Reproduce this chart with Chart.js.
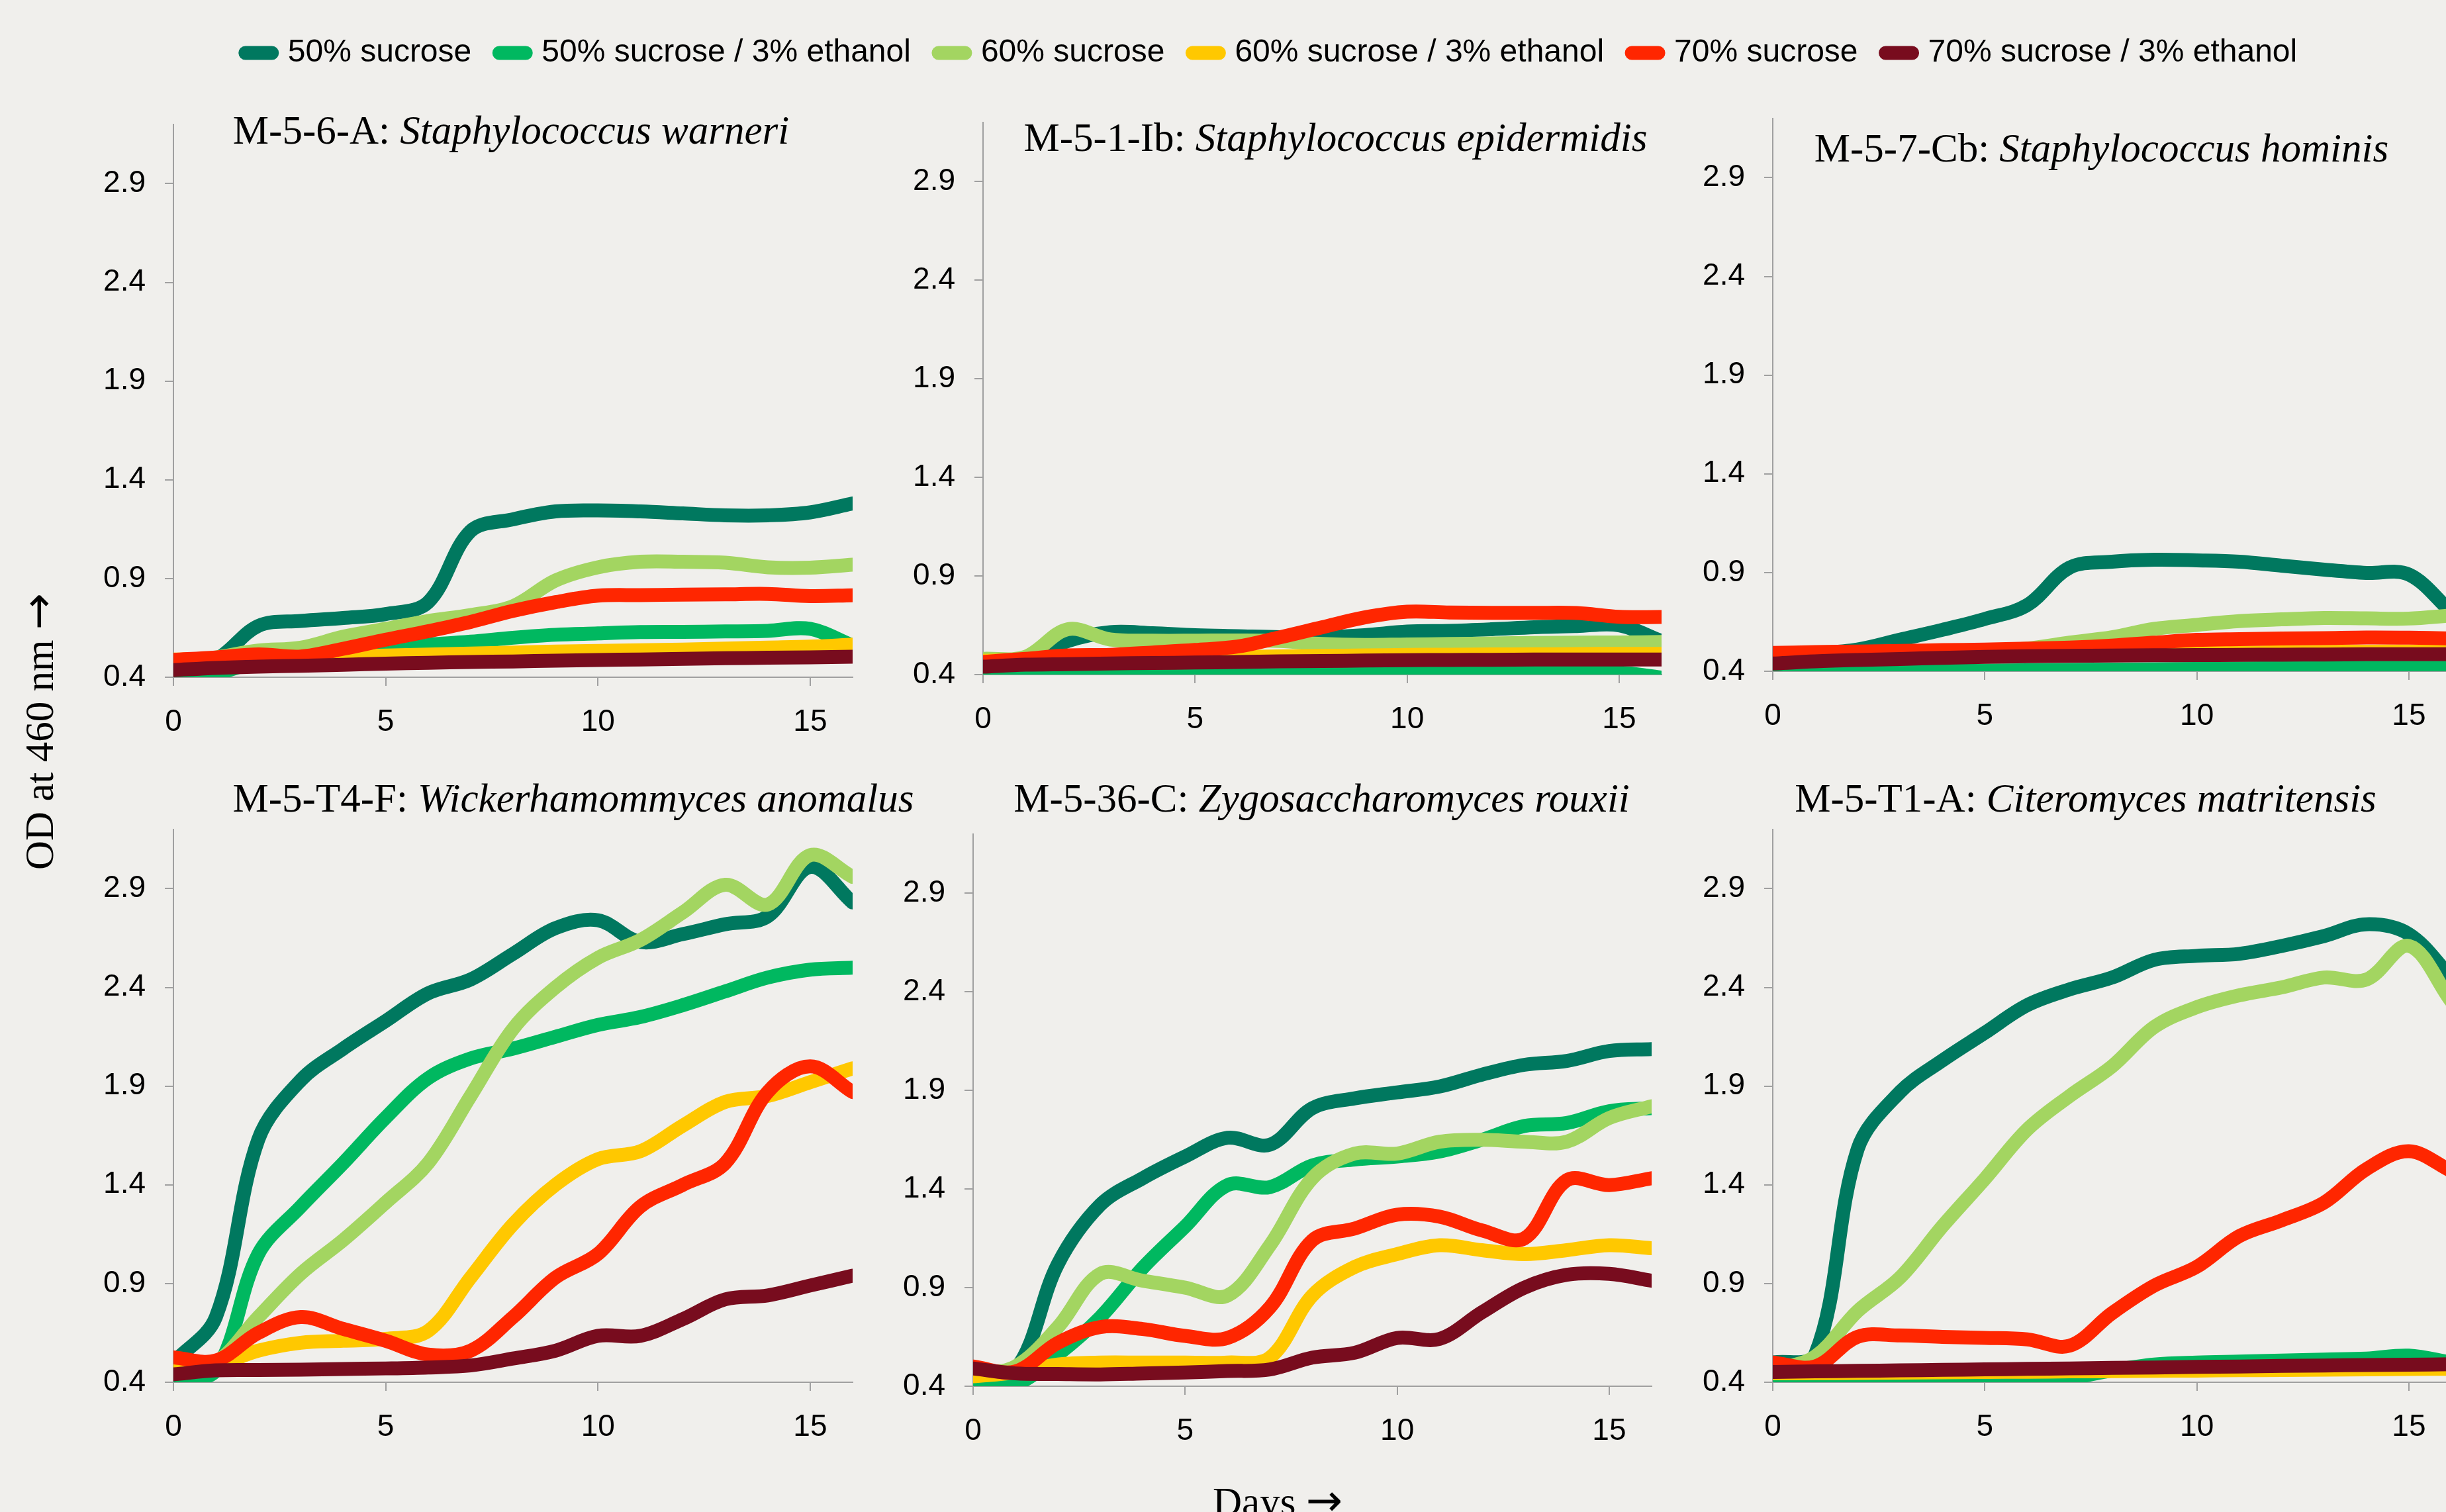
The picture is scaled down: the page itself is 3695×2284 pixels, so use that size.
<!DOCTYPE html>
<html lang="en">
<head>
<meta charset="UTF-8">
<title>OD at 460 nm - growth in sucrose / ethanol</title>
<script src="https://cdn.jsdelivr.net/npm/chart.js"></script>
<style>
  body { margin: 0; width: 3695px; height: 2284px; overflow: hidden; background: #f0efec; position: relative; }
  canvas { position: absolute; }
  .axis-label { position: absolute; font-family: "Liberation Serif", "Times New Roman", serif; font-size: 61px; line-height: 1; white-space: nowrap; color: #000; }
  .axis-label .arrow { font-family: "DejaVu Sans", sans-serif; font-size: 66px; }
  #yLabel { left: 58px; top: 1105px; transform: translate(-50%, -50%) rotate(-90deg); }
  #xLabel { left: 1930px; top: 2234px; transform: translateX(-50%); }
</style>
</head>
<body>
<canvas id="legend" width="3695" height="400" style="left:0;top:0"></canvas>
<div class="axis-label" id="yLabel">OD at 460 nm <span class="arrow">→</span></div>
<div class="axis-label" id="xLabel">Days <span class="arrow">→</span></div>

<script>
// ---- data ----
const days = [0, 1, 2, 3, 4, 5, 6, 7, 8, 9, 10, 11, 12, 13, 14, 15, 16];
const dayTicks = [0, 5, 10, 15];
const odTicks = [0.4, 0.9, 1.4, 1.9, 2.4, 2.9];

const seriesNames = ['50% sucrose', '50% sucrose / 3% ethanol', '60% sucrose',
                     '60% sucrose / 3% ethanol', '70% sucrose', '70% sucrose / 3% ethanol'];

// M-5-6-A: Staphylococcus warneri
const waS50  = [0.45, 0.49, 0.66, 0.685, 0.70, 0.72, 0.78, 1.14, 1.20, 1.24, 1.245, 1.24, 1.23, 1.22, 1.22, 1.235, 1.28];
const waS50E = [0.41, 0.42, 0.48, 0.51, 0.53, 0.55, 0.565, 0.58, 0.60, 0.615, 0.622, 0.629, 0.63, 0.632, 0.635, 0.645, 0.56];
const waS60  = [0.47, 0.50, 0.535, 0.55, 0.605, 0.645, 0.685, 0.715, 0.76, 0.89, 0.957, 0.985, 0.985, 0.98, 0.957, 0.955, 0.97];
const waS60E = [0.49, 0.49, 0.495, 0.50, 0.505, 0.51, 0.515, 0.52, 0.525, 0.53, 0.533, 0.537, 0.54, 0.545, 0.55, 0.555, 0.565];
const waS70  = [0.488, 0.50, 0.516, 0.505, 0.544, 0.59, 0.633, 0.68, 0.736, 0.78, 0.813, 0.816, 0.818, 0.82, 0.822, 0.811, 0.815];
const waS70E = [0.436, 0.447, 0.454, 0.458, 0.463, 0.469, 0.473, 0.477, 0.48, 0.484, 0.487, 0.49, 0.493, 0.496, 0.499, 0.501, 0.504];

// M-5-1-Ib: Staphylococcus epidermidis
const epS50  = [0.45, 0.47, 0.57, 0.615, 0.61, 0.60, 0.595, 0.59, 0.59, 0.60, 0.618, 0.622, 0.63, 0.64, 0.646, 0.65, 0.57];
const epS50E = [0.41, 0.40, 0.39, 0.41, 0.40, 0.395, 0.40, 0.40, 0.405, 0.405, 0.408, 0.41, 0.41, 0.41, 0.41, 0.41, 0.385];
const epS60  = [0.48, 0.49, 0.63, 0.578, 0.572, 0.572, 0.573, 0.57, 0.555, 0.55, 0.553, 0.555, 0.558, 0.56, 0.562, 0.563, 0.565];
const epS60E = [0.47, 0.475, 0.48, 0.483, 0.486, 0.488, 0.49, 0.492, 0.495, 0.497, 0.50, 0.501, 0.502, 0.503, 0.504, 0.505, 0.505];
const epS70  = [0.464, 0.48, 0.497, 0.50, 0.512, 0.525, 0.542, 0.589, 0.64, 0.69, 0.719, 0.715, 0.713, 0.713, 0.712, 0.693, 0.692];
const epS70E = [0.44, 0.45, 0.453, 0.456, 0.459, 0.461, 0.464, 0.467, 0.469, 0.471, 0.473, 0.474, 0.475, 0.476, 0.476, 0.476, 0.476];

// M-5-7-Cb: Staphylococcus hominis
const hoS50  = [0.48, 0.49, 0.51, 0.56, 0.61, 0.665, 0.735, 0.925, 0.955, 0.965, 0.962, 0.955, 0.935, 0.915, 0.898, 0.89, 0.70];
const hoS50E = [0.40, 0.40, 0.40, 0.40, 0.402, 0.403, 0.405, 0.407, 0.408, 0.41, 0.412, 0.414, 0.416, 0.418, 0.418, 0.418, 0.418];
const hoS60  = [0.47, 0.48, 0.49, 0.495, 0.50, 0.505, 0.515, 0.545, 0.572, 0.615, 0.635, 0.654, 0.663, 0.67, 0.668, 0.667, 0.683];
const hoS60E = [0.47, 0.472, 0.475, 0.477, 0.48, 0.482, 0.484, 0.486, 0.488, 0.49, 0.492, 0.494, 0.496, 0.498, 0.499, 0.50, 0.50];
const hoS70  = [0.493, 0.497, 0.50, 0.503, 0.507, 0.51, 0.515, 0.52, 0.53, 0.545, 0.559, 0.563, 0.566, 0.568, 0.571, 0.57, 0.566];
const hoS70E = [0.439, 0.45, 0.457, 0.462, 0.468, 0.473, 0.476, 0.478, 0.48, 0.481, 0.482, 0.483, 0.484, 0.485, 0.486, 0.486, 0.486];

// M-5-T4-F: Wickerhamommyces anomalus
const anS50  = [0.50, 0.73, 1.63, 1.93, 2.09, 2.23, 2.37, 2.44, 2.57, 2.70, 2.74, 2.63, 2.67, 2.72, 2.76, 3.01, 2.83];
const anS50E = [0.42, 0.46, 1.05, 1.29, 1.51, 1.74, 1.94, 2.04, 2.09, 2.15, 2.21, 2.25, 2.31, 2.38, 2.45, 2.49, 2.50];
const anS60  = [0.45, 0.50, 0.73, 0.95, 1.12, 1.31, 1.51, 1.85, 2.19, 2.40, 2.55, 2.64, 2.78, 2.92, 2.82, 3.07, 2.96];
const anS60E = [0.49, 0.49, 0.56, 0.60, 0.61, 0.62, 0.66, 0.93, 1.20, 1.40, 1.53, 1.57, 1.70, 1.82, 1.85, 1.92, 1.99];
const anS70  = [0.526, 0.51, 0.65, 0.73, 0.67, 0.61, 0.54, 0.56, 0.73, 0.93, 1.05, 1.29, 1.40, 1.51, 1.87, 2.00, 1.87];
const anS70E = [0.44, 0.46, 0.462, 0.464, 0.467, 0.47, 0.475, 0.485, 0.52, 0.56, 0.635, 0.635, 0.72, 0.82, 0.84, 0.89, 0.94];

// M-5-36-C: Zygosaccharomyces rouxii
const roS50  = [0.49, 0.485, 1.02, 1.32, 1.455, 1.565, 1.66, 1.625, 1.81, 1.86, 1.89, 1.92, 1.98, 2.03, 2.05, 2.10, 2.11];
const roS50E = [0.41, 0.41, 0.56, 0.75, 1.0, 1.21, 1.42, 1.41, 1.52, 1.55, 1.565, 1.59, 1.65, 1.72, 1.735, 1.795, 1.81];
const roS60  = [0.46, 0.50, 0.70, 0.97, 0.935, 0.90, 0.86, 1.115, 1.455, 1.58, 1.58, 1.64, 1.65, 1.64, 1.64, 1.76, 1.82];
const roS60E = [0.45, 0.47, 0.51, 0.52, 0.52, 0.52, 0.52, 0.545, 0.86, 1.005, 1.07, 1.115, 1.09, 1.07, 1.09, 1.115, 1.10];
const roS70  = [0.50, 0.475, 0.62, 0.70, 0.69, 0.655, 0.645, 0.80, 1.14, 1.20, 1.27, 1.26, 1.19, 1.15, 1.445, 1.42, 1.455];
const roS70E = [0.49, 0.465, 0.462, 0.46, 0.465, 0.47, 0.477, 0.485, 0.545, 0.57, 0.645, 0.64, 0.775, 0.90, 0.965, 0.97, 0.935];

// M-5-T1-A: Citeromyces matritensis
const maS50  = [0.50, 0.54, 1.58, 1.87, 2.03, 2.17, 2.31, 2.39, 2.45, 2.54, 2.56, 2.57, 2.61, 2.66, 2.72, 2.67, 2.45];
const maS50E = [0.40, 0.405, 0.41, 0.41, 0.405, 0.40, 0.395, 0.42, 0.46, 0.49, 0.50, 0.505, 0.51, 0.515, 0.52, 0.535, 0.50];
const maS60  = [0.46, 0.53, 0.76, 0.93, 1.19, 1.43, 1.68, 1.85, 2.0, 2.20, 2.30, 2.36, 2.40, 2.45, 2.44, 2.61, 2.33];
const maS60E = [0.445, 0.446, 0.447, 0.449, 0.45, 0.452, 0.453, 0.455, 0.456, 0.458, 0.459, 0.461, 0.462, 0.464, 0.465, 0.467, 0.468];
const maS70  = [0.50, 0.48, 0.63, 0.637, 0.63, 0.625, 0.617, 0.585, 0.75, 0.89, 0.985, 1.14, 1.22, 1.31, 1.48, 1.57, 1.47];
const maS70E = [0.452, 0.455, 0.458, 0.46, 0.463, 0.465, 0.468, 0.47, 0.473, 0.475, 0.478, 0.48, 0.483, 0.485, 0.487, 0.489, 0.491];

const panelCodes = ['M-5-6-A: ', 'M-5-1-Ib: ', 'M-5-7-Cb: ', 'M-5-T4-F: ', 'M-5-36-C: ', 'M-5-T1-A: '];
const panelSpecies = ['Staphylococcus warneri', 'Staphylococcus epidermidis', 'Staphylococcus hominis',
                      'Wickerhamommyces anomalus', 'Zygosaccharomyces rouxii', 'Citeromyces matritensis'];
const panelSeries = [
  [waS50, waS50E, waS60, waS60E, waS70, waS70E],
  [epS50, epS50E, epS60, epS60E, epS70, epS70E],
  [hoS50, hoS50E, hoS60, hoS60E, hoS70, hoS70E],
  [anS50, anS50E, anS60, anS60E, anS70, anS70E],
  [roS50, roS50E, roS60, roS60E, roS70, roS70E],
  [maS50, maS50E, maS60, maS60E, maS70, maS70E]
];

// ---- look & layout ----
const seriesColors = ['#00785f', '#00b860', '#a3d561', '#ffc800', '#ff2600', '#780c1e'];
const axisGrey = '#a0a0a0';
const sansFont = '"Liberation Sans", Arial, sans-serif';
const serifFont = '"Liberation Serif", "Times New Roman", serif';
const Y_AXIS_W = 160, X_AXIS_H = 120, TOP_PAD = 100, RIGHT_PAD = 120;

// canvas box on the page (plot box + axis room), title offset:
// dx from plot centre, dy = title baseline below the plot top
const panelBoxes = [
  { left: 102,  top: 88,   plotW: 1026, plotH: 835, dx: -3,  dy: 29 },
  { left: 1325, top: 85,   plotW: 1025, plotH: 834, dx: 20,  dy: 43 },
  { left: 2518, top: 79,   plotW: 1025, plotH: 835, dx: -16, dy: 65 },
  { left: 102,  top: 1153, plotW: 1026, plotH: 835, dx: 91,  dy: -27 },
  { left: 1310, top: 1160, plotW: 1025, plotH: 834, dx: 14,  dy: -34 },
  { left: 2518, top: 1153, plotW: 1025, plotH: 835, dx: -40, dy: -27 }
];

// title with a roman strain code and an italic species name
const panelTitle = {
  id: 'panelTitle',
  afterDraw(chart, args, opts) {
    const { ctx, chartArea } = chart;
    const roman = '61px ' + serifFont;
    const italic = 'italic 61px ' + serifFont;
    ctx.save();
    ctx.font = roman;
    const w1 = ctx.measureText(opts.code).width;
    ctx.font = italic;
    const w2 = ctx.measureText(opts.species).width;
    const x = (chartArea.left + chartArea.right) / 2 + opts.dx - (w1 + w2) / 2;
    const y = chartArea.top + opts.dy;
    ctx.fillStyle = '#000';
    ctx.textBaseline = 'alphabetic';
    ctx.textAlign = 'left';
    ctx.font = roman;
    ctx.fillText(opts.code, x, y);
    ctx.font = italic;
    ctx.fillText(opts.species, x + w1, y);
    ctx.restore();
  }
};

function axisGrid() {
  return { drawOnChartArea: false, drawTicks: true, tickLength: 13, color: axisGrey, lineWidth: 2 };
}

panelBoxes.forEach((box, p) => {
  const canvas = document.createElement('canvas');
  canvas.width = Y_AXIS_W + box.plotW + RIGHT_PAD;
  canvas.height = TOP_PAD + box.plotH + X_AXIS_H;
  canvas.style.left = box.left + 'px';
  canvas.style.top = box.top + 'px';
  document.body.appendChild(canvas);

  const series = panelSeries[p];
  new Chart(canvas, {
    type: 'line',
    data: {
      datasets: series.map((vals, i) => ({
        label: seriesNames[i],
        data: vals.map((v, k) => ({ x: days[k], y: v })),
        borderColor: seriesColors[i],
        backgroundColor: seriesColors[i],
        borderWidth: 21,
        pointRadius: 0,
        tension: 0.35,
        fill: false,
        borderCapStyle: 'round',
        borderJoinStyle: 'round',
        clip: 0,
        order: series.length - i   // later series drawn on top
      }))
    },
    options: {
      responsive: false,
      animation: false,
      devicePixelRatio: 1,
      layout: { padding: { top: TOP_PAD, left: 0, right: RIGHT_PAD, bottom: 0 } },
      scales: {
        x: {
          type: 'linear',
          min: 0, max: 16,
          afterBuildTicks: s => { s.ticks = dayTicks.map(v => ({ value: v })); },
          afterFit: s => { s.height = X_AXIS_H; },
          ticks: { font: { family: sansFont, size: 46 }, color: '#000', padding: 28,
                   maxRotation: 0, autoSkip: false, callback: v => String(v) },
          grid: axisGrid(),
          border: { color: axisGrey, width: 2 }
        },
        y: {
          type: 'linear',
          min: 0.4, max: 3.2,
          afterBuildTicks: s => { s.ticks = odTicks.map(v => ({ value: v })); },
          afterFit: s => { s.width = Y_AXIS_W; },
          ticks: { font: { family: sansFont, size: 46 }, color: '#000', padding: 29,
                   autoSkip: false, callback: v => Number(v).toFixed(1) },
          grid: axisGrid(),
          border: { color: axisGrey, width: 2 }
        }
      },
      plugins: {
        legend: { display: false },
        tooltip: { enabled: false },
        panelTitle: { code: panelCodes[p], species: panelSpecies[p], dx: box.dx, dy: box.dy }
      }
    },
    plugins: [panelTitle]
  });
});

// shared legend across the top
new Chart(document.getElementById('legend'), {
  type: 'line',
  data: {
    datasets: seriesNames.map((name, i) => ({ label: name, data: [], borderColor: seriesColors[i] }))
  },
  options: {
    responsive: false,
    animation: false,
    devicePixelRatio: 1,
    layout: { padding: { left: 146, top: 14 } },
    scales: { x: { display: false }, y: { display: false } },
    plugins: {
      tooltip: { enabled: false },
      legend: {
        position: 'top',
        labels: {
          usePointStyle: true,
          pointStyleWidth: 40,
          padding: 42,
          color: '#000',
          font: { family: sansFont, size: 48 },
          generateLabels: chart => chart.data.datasets.map((ds, i) => ({
            text: ds.label,
            fillStyle: ds.borderColor,
            strokeStyle: ds.borderColor,
            lineWidth: 21,
            lineCap: 'round',
            pointStyle: 'line',
            hidden: false,
            datasetIndex: i
          }))
        }
      }
    }
  }
});
</script>
</body>
</html>
